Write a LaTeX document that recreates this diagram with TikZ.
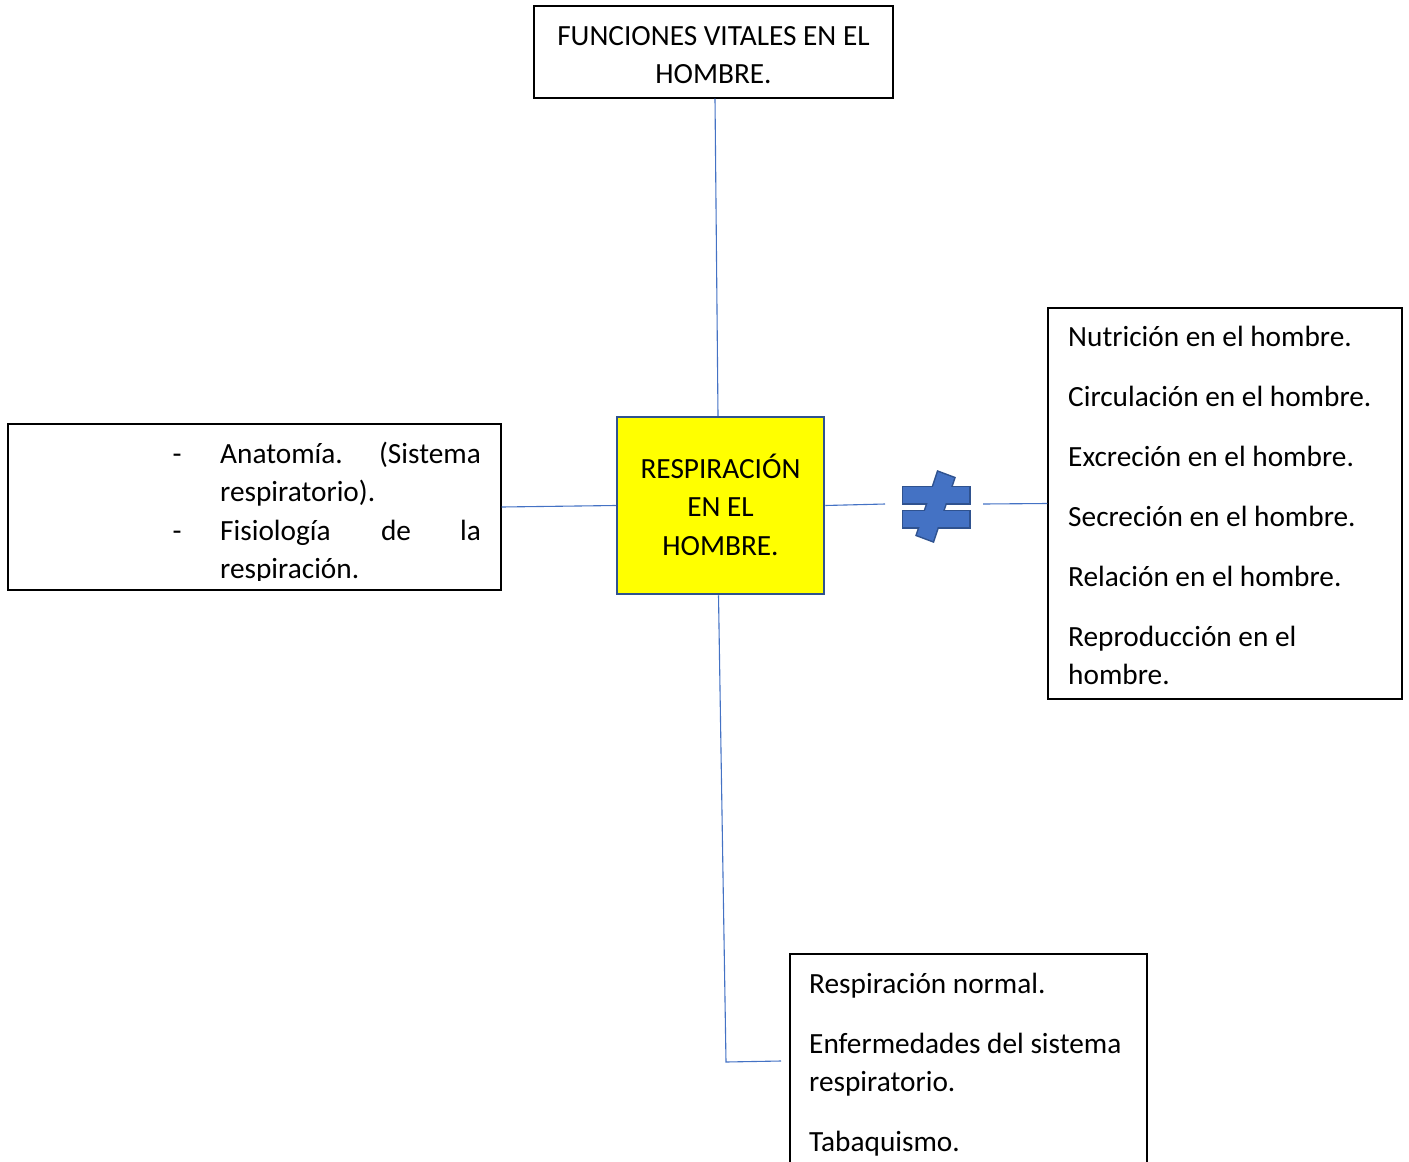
\documentclass[tikz,border=0pt]{standalone}
\usepackage{fontspec}
\setmainfont{Carlito}
\definecolor{lineblue}{HTML}{4472C4}
\definecolor{darkblue}{HTML}{2F528F}
\definecolor{boxyellow}{HTML}{FFFF00}
\begin{document}
\begin{tikzpicture}[x=1pt,y=-1pt,
  box/.style={draw=black,line width=1.1pt,inner sep=0pt},
  mainbox/.style={draw=darkblue,fill=boxyellow,line width=2.5pt,inner sep=0pt},
  conn/.style={draw=lineblue,line width=1.1pt},
  txt/.style={inner sep=0pt,font=\fontsize{29.3}{38.5}\selectfont}]
\useasboundingbox (0,0) rectangle (1409,1162);
\clip (0,0) rectangle (1409,1162);
% boxes
\node[box,minimum width=359pt,minimum height=92pt] (top) at (713.5,52) {};
\node[mainbox,minimum width=207pt,minimum height=177pt] (center) at (720.5,505.5) {};
\node[box,minimum width=493pt,minimum height=166pt] (left) at (254.5,507) {};
\node[box,minimum width=354pt,minimum height=391pt] (right) at (1225,503.5) {};
\node[box,minimum width=357pt,minimum height=226pt] (bottom) at (968.5,1067) {};
% coordinates
\coordinate (neL) at (885,504);
\coordinate (neR) at (983,504);
\coordinate (bend) at (726,1062);
\coordinate (bend2) at (781,1061);
% connectors
\draw[conn] ([xshift=1.5pt]top.south) -- ([xshift=-2.5pt]center.north);
\draw[conn] (left.east) -- (center.west);
\draw[conn] (center.east) -- (neL);
\draw[conn] (neR) -- (right.west);
\draw[conn] ([xshift=-2pt]center.south) -- (bend) -- (bend2);
% not-equal sign
\foreach \p in {{(903,487) rectangle (969,503)},{(903,511) rectangle (969,527)},{(938,472) -- (954,478) -- (933,541) -- (917,535) -- cycle}}{
  \draw[darkblue,line width=3pt,line join=miter] \p;
}
\foreach \p in {{(903,487) rectangle (969,503)},{(903,511) rectangle (969,527)},{(938,472) -- (954,478) -- (933,541) -- (917,535) -- cycle}}{
  \fill[lineblue] \p;
}
% top text
\node[txt,anchor=base] (t1) at (713.5,45) {FUNCIONES VITALES EN EL};
\node[txt,anchor=base] (t2) at (713.5,83.5) {HOMBRE.};
% center text
\node[txt,anchor=base] (c1) at (720.5,478) {RESPIRACIÓN};
\node[txt,anchor=base] (c2) at (720.5,516.5) {EN EL};
\node[txt,anchor=base] (c3) at (720.5,555) {HOMBRE.};
% left text
\begin{scope}
\clip (8,424) rectangle (501,580);
\node[txt,anchor=base] (ld1) at (177,463) {-};
\node[txt,anchor=base west] (l1a) at (220,463) {Anatomía.};
\node[txt,anchor=base east] (l1b) at (481,463) {(Sistema};
\node[txt,anchor=base west] (l2) at (220,501.5) {respiratorio).};
\node[txt,anchor=base] (ld2) at (177,540) {-};
\node[txt,anchor=base west] (l3a) at (220,540) {Fisiología};
\node[txt,anchor=base] (l3b) at (396,540) {de};
\node[txt,anchor=base east] (l3c) at (481,540) {la};
\node[txt,anchor=base west] (l4) at (220,578.5) {respiración.};
\end{scope}
% right text
\node[txt,anchor=base west] (r1) at (1068,346) {Nutrición en el hombre.};
\node[txt,anchor=base west] (r2) at (1068,406) {Circulación en el hombre.};
\node[txt,anchor=base west] (r3) at (1068,466) {Excreción en el hombre.};
\node[txt,anchor=base west] (r4) at (1068,526) {Secreción en el hombre.};
\node[txt,anchor=base west] (r5) at (1068,586) {Relación en el hombre.};
\node[txt,anchor=base west] (r6) at (1068,646) {Reproducción en el};
\node[txt,anchor=base west] (r7) at (1068,684.5) {hombre.};
% bottom text
\node[txt,anchor=base west] (b1) at (809,993) {Respiración normal.};
\node[txt,anchor=base west] (b2) at (809,1053) {Enfermedades del sistema};
\node[txt,anchor=base west] (b3) at (809,1091.5) {respiratorio.};
\node[txt,anchor=base west] (b4) at (809,1151) {Tabaquismo.};
\end{tikzpicture}
\end{document}
